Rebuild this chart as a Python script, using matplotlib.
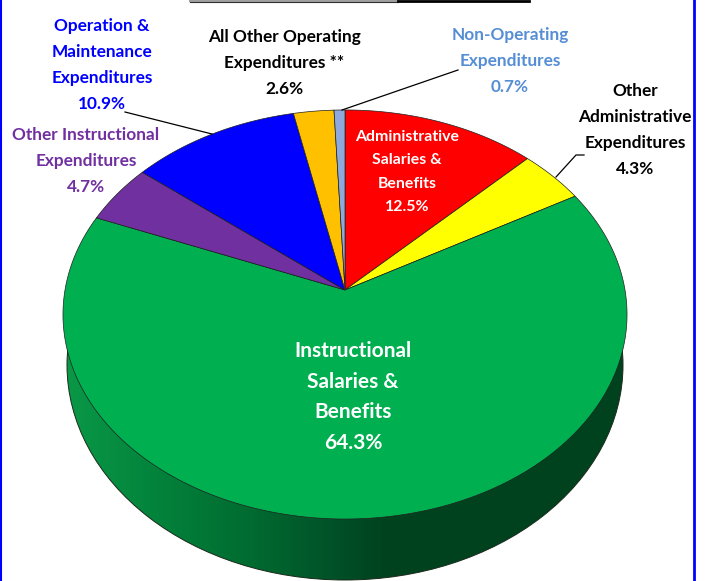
import numpy as np
import matplotlib
matplotlib.use('Agg')
import matplotlib.pyplot as plt
from matplotlib.patches import Polygon, Ellipse

# fatias no sentido horario a partir do topo
categorias = ['Administrative\nSalaries &\nBenefits', 'Other\nAdministrative\nExpenditures',
              'Instructional\nSalaries &\nBenefits', 'Other Instructional\nExpenditures',
              'Operation &\nMaintenance\nExpenditures', 'All Other Operating\nExpenditures **',
              'Non-Operating\nExpenditures']
valores = [12.5, 4.3, 64.3, 4.7, 10.9, 2.6, 0.7]
cores = ['#FF0000', '#FFFF00', '#00B050', '#7030A0', '#0000FF', '#FFC000', '#8EA9DB']
cores_texto = ['white', 'black', 'white', '#7030A0', '#0000FF', 'black', '#558ED5']
pos_texto = [(407, 172), (635, 130), (353, 397), (86, 161), (102, 65), (284, 63), (510, 61)]
tam_texto = [11.4, 12.4, 15, 12.4, 12.4, 12.4, 12.4]
entrelinha = [1.85, 1.75, 1.65, 1.75, 1.75, 1.75, 1.75]

plt.rcParams['font.family'] = ['Lato', 'DejaVu Sans']

# geometria da pizza em perspectiva (pixels)
cx, cy = 345, 290
a, b, k = 280, 201.6, 0.1198


def projetar(frac):
    ang = 2 * np.pi * np.asarray(frac)
    u, v = np.sin(ang), np.cos(ang)
    den = 1 + k * v
    return np.column_stack([cx + a * u / den, cy - b * v / den])


fig = plt.figure(figsize=(7.05, 5.81), dpi=100)
ax = fig.add_axes([0, 0, 1, 1])
ax.set_xlim(0, 705)
ax.set_ylim(581, 0)
ax.axis('off')

# lateral com degrade
stops_x = [60, 150, 250, 330, 385, 640]
stops_g = [(10, 154, 72), (3, 132, 60), (0, 107, 48), (0, 82, 40), (0, 66, 30), (0, 66, 30)]
xs = np.arange(50, 650)
grad = np.array([np.interp(xs, stops_x, [s[i] for s in stops_g]) for i in range(3)]).T / 255
img = ax.imshow(grad[np.newaxis, :, :], extent=(50, 650, 590, 140), aspect='auto', zorder=1)
lateral = Ellipse((345, 365), 556, 430, transform=ax.transData, fc='none', ec='#1a2a1a', lw=0.7, zorder=2)
ax.add_patch(lateral)
img.set_clip_path(lateral)
ax.set_xlim(0, 705)
ax.set_ylim(581, 0)

# fatias
acum = np.concatenate([[0], np.cumsum(valores)]) / sum(valores)
for i, cor in enumerate(cores):
    arco = projetar(np.linspace(acum[i], acum[i + 1], 200))
    pts = np.vstack([[cx, cy], arco])
    ax.add_patch(Polygon(pts, closed=True, fc=cor, ec='#202020', lw=0.5, zorder=3))

# linhas de chamada
ax.plot([125, 212], [112, 134], color='black', lw=0.9, zorder=4)
ax.plot([342, 458], [110, 70], color='black', lw=0.9, zorder=4)
ax.plot([556, 576, 584], [177, 155, 155], color='black', lw=0.9, zorder=4)

# rotulos
for nome, val, cor, pos, tam, ls in zip(categorias, valores, cores_texto, pos_texto, tam_texto, entrelinha):
    ax.text(pos[0], pos[1], f'{nome}\n{val:.1f}%', color=cor, fontsize=tam, fontweight='bold',
            ha='center', va='center', linespacing=ls, zorder=5)

# bordas e resto do titulo cortado
ax.plot([0.5, 0.5], [0, 581], color='#0000FF', lw=1.5, zorder=6)
ax.plot([693.5, 693.5], [0, 581], color='#0000FF', lw=2, zorder=6)
ax.plot([190, 398], [0.5, 0.5], color='#A0A0A0', lw=1.5, zorder=6)
ax.plot([190, 398], [2, 2], color='#303030', lw=0.8, zorder=6)
ax.plot([398, 529], [1, 1], color='black', lw=2, zorder=6)

fig.savefig('out.png', dpi=100)
plt.close(fig)
